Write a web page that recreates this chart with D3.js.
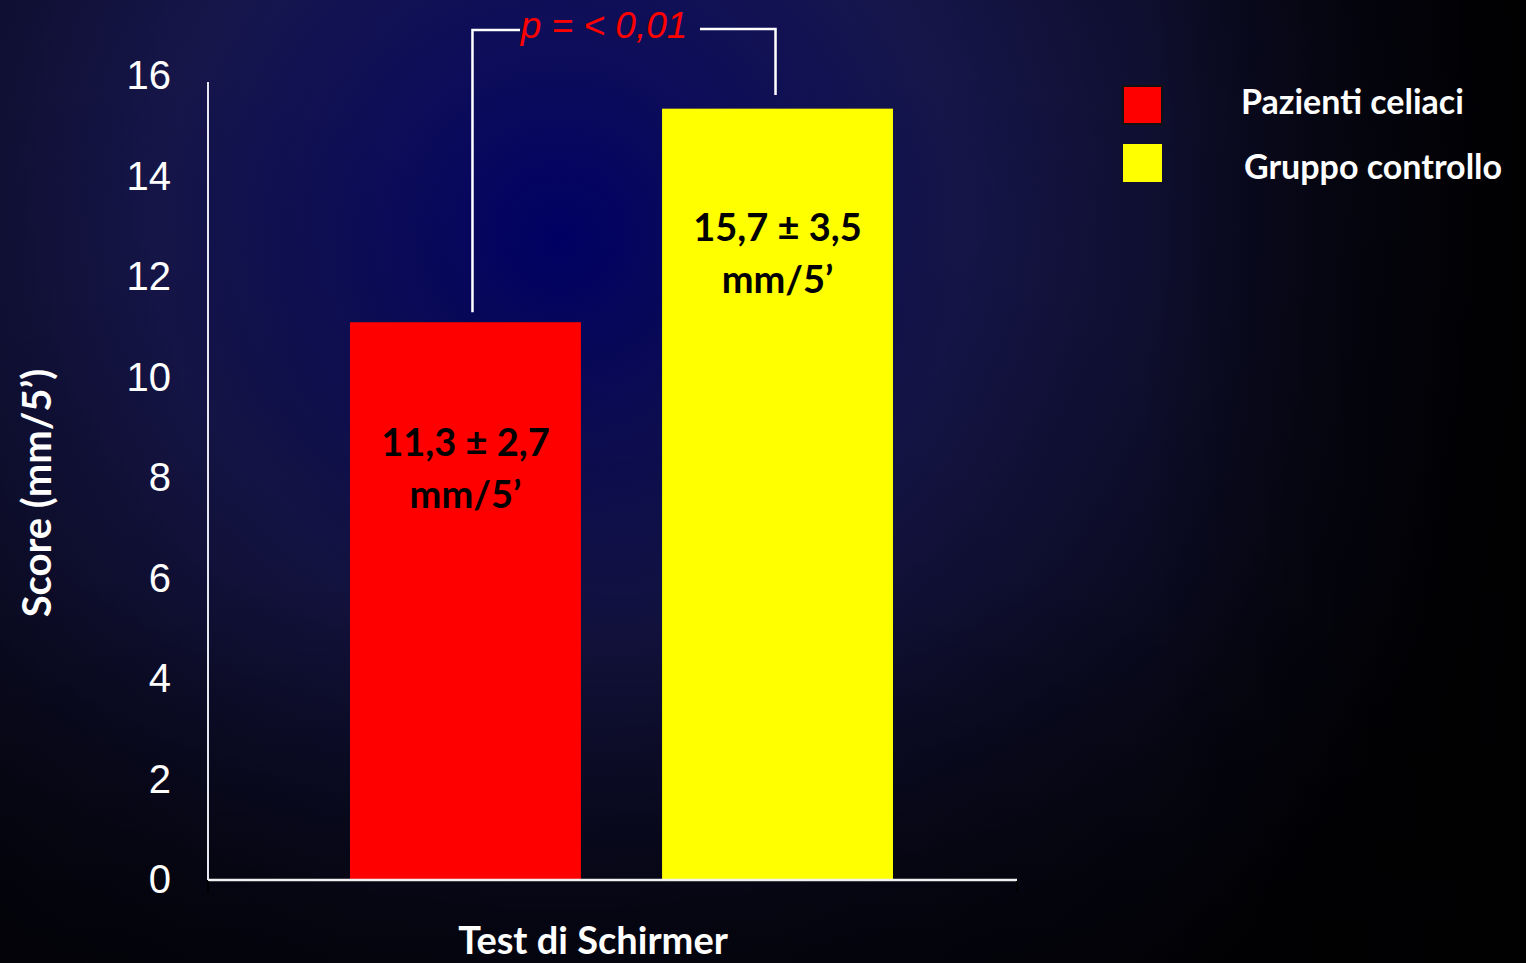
<!DOCTYPE html>
<html>
<head>
<meta charset="utf-8">
<script src="https://cdn.jsdelivr.net/npm/d3@7"></script>
<style>
  html, body { margin: 0; padding: 0; background: #0a0a1e; }
  svg { display: block; }
</style>
</head>
<body>
<script>
// data
var groups = ["Pazienti celiaci", "Gruppo controllo"];
var values = [11.1, 15.35];
var colors = ["#ff0000", "#ffff00"];
var barLabels = [["11,3 \u00b1 2,7", "mm/5\u2019"], ["15,7 \u00b1 3,5", "mm/5\u2019"]];
var yTicks = [0, 2, 4, 6, 8, 10, 12, 14, 16];
var pText = "p = < 0,01";

var width = 1526, height = 963;

var svg = d3.select("body").append("svg")
    .attr("width", width)
    .attr("height", height);

var defs = svg.append("defs");
var rg = defs.append("radialGradient")
    .attr("id", "bg")
    .attr("gradientUnits", "userSpaceOnUse")
    .attr("cx", 560).attr("cy", 240).attr("r", 1000);
rg.append("stop").attr("offset", "0").attr("stop-color", "#00006a");
rg.append("stop").attr("offset", "0.18").attr("stop-color", "#0c0c5c");
rg.append("stop").attr("offset", "0.4").attr("stop-color", "#16164c");
rg.append("stop").attr("offset", "0.7").attr("stop-color", "#0c0c26");
rg.append("stop").attr("offset", "1").attr("stop-color", "#03030a");

var lg = defs.append("linearGradient")
    .attr("id", "shade")
    .attr("x1", 0).attr("y1", 0).attr("x2", 0).attr("y2", 1);
lg.append("stop").attr("offset", "0").attr("stop-color", "#000").attr("stop-opacity", 0);
lg.append("stop").attr("offset", "0.6").attr("stop-color", "#000").attr("stop-opacity", 0.15);
lg.append("stop").attr("offset", "1").attr("stop-color", "#000").attr("stop-opacity", 0.6);

var rs = defs.append("linearGradient")
    .attr("id", "rshade")
    .attr("x1", 0).attr("y1", 0).attr("x2", 1).attr("y2", 0);
rs.append("stop").attr("offset", "0.75").attr("stop-color", "#000").attr("stop-opacity", 0);
rs.append("stop").attr("offset", "1").attr("stop-color", "#000").attr("stop-opacity", 0.85);

svg.append("rect").attr("width", width).attr("height", height).attr("fill", "url(#bg)");
svg.append("rect").attr("width", width).attr("height", height).attr("fill", "url(#shade)");
svg.append("rect").attr("width", width).attr("height", height).attr("fill", "url(#rshade)");

// scales
var y = d3.scaleLinear().domain([0, 16]).range([880, 76]);
var x = d3.scaleBand().domain(groups).range([256.4, 986.6]).paddingInner(0.26).paddingOuter(0.3);

// bars
svg.selectAll(".bar")
  .data(groups)
  .enter().append("rect")
    .attr("class", "bar")
    .attr("x", function(d) { return x(d); })
    .attr("width", x.bandwidth())
    .attr("y", function(d, i) { return y(values[i]); })
    .attr("height", function(d, i) { return y(0) - y(values[i]); })
    .attr("fill", function(d, i) { return colors[i]; });

// bar value labels
var lab = svg.selectAll(".blabel")
  .data(groups)
  .enter().append("text")
    .attr("class", "blabel")
    .attr("text-anchor", "middle")
    .attr("font-family", "Lato, 'Open Sans', sans-serif")
    .attr("font-weight", "bold")
    .attr("font-size", 38)
    .attr("fill", "#000");
lab.each(function(d, i) {
  var t = d3.select(this);
  var cx = x(d) + x.bandwidth() / 2;
  var top = i === 0 ? 456 : 241;
  barLabels[i].forEach(function(s, k) {
    t.append("tspan").attr("x", cx).attr("y", top + k * 52).text(s);
  });
});

// axes
var yAxis = svg.append("g")
    .attr("transform", "translate(208,0)")
    .call(d3.axisLeft(y).tickValues(yTicks).tickSize(0).tickPadding(37));
yAxis.select(".domain").remove();
yAxis.selectAll("text")
    .attr("fill", "#fff")
    .attr("font-family", "'Liberation Sans', Arial, sans-serif")
    .attr("font-size", 40);

svg.append("line")
    .attr("x1", 208).attr("x2", 208).attr("y1", 82).attr("y2", y(0))
    .attr("stroke", "#e8e8f0").attr("stroke-width", 2);
svg.append("line")
    .attr("x1", 208).attr("x2", 1017).attr("y1", y(0)).attr("y2", y(0))
    .attr("stroke", "#f0f0f0").attr("stroke-width", 2.5);
[208, 1017].forEach(function(px) {
  svg.append("line")
      .attr("x1", px).attr("x2", px).attr("y1", y(0) + 1).attr("y2", y(0) + 12)
      .attr("stroke", "#000").attr("stroke-width", 2);
});

// axis titles
svg.append("text")
    .attr("transform", "translate(51,493) rotate(-90)")
    .attr("text-anchor", "middle")
    .attr("font-family", "Lato, 'Open Sans', sans-serif")
    .attr("font-weight", "bold")
    .attr("font-size", 40)
    .attr("fill", "#fff")
    .text("Score (mm/5\u2019)");

svg.append("text")
    .attr("x", 593).attr("y", 954)
    .attr("text-anchor", "middle")
    .attr("font-family", "Lato, 'Open Sans', sans-serif")
    .attr("font-weight", "bold")
    .attr("font-size", 38)
    .attr("fill", "#fff")
    .text("Test di Schirmer");

// significance bracket
var xl = x(groups[0]) + x.bandwidth() / 2 + 7;
var xr = x(groups[1]) + x.bandwidth() / 2 - 2;
svg.append("path")
    .attr("d", "M" + xl + "," + (y(values[0]) - 10) + "V30H520")
    .attr("fill", "none").attr("stroke", "#fff").attr("stroke-width", 2.5);
svg.append("path")
    .attr("d", "M700,29H" + xr + "V95")
    .attr("fill", "none").attr("stroke", "#fff").attr("stroke-width", 2.5);
svg.append("text")
    .attr("x", 604).attr("y", 38)
    .attr("text-anchor", "middle")
    .attr("font-family", "'Liberation Sans', Arial, sans-serif")
    .attr("font-style", "italic")
    .attr("font-size", 37)
    .attr("fill", "#ff0000")
    .text(pText);

// legend
var leg = svg.selectAll(".leg")
  .data(groups)
  .enter().append("g")
    .attr("class", "leg")
    .attr("transform", function(d, i) { return "translate(1123," + (86 + i * 58) + ")"; });
leg.append("rect")
    .attr("width", 39).attr("height", 38)
    .attr("fill", function(d, i) { return colors[i]; })
    .attr("stroke", function(d, i) { return i === 0 ? "#111" : "none"; })
    .attr("stroke-width", 2);
leg.append("text")
    .attr("x", function(d, i) { return i === 0 ? 118 : 121; })
    .attr("y", function(d, i) { return i === 0 ? 28 : 35; })
    .attr("font-family", "Lato, 'Open Sans', sans-serif")
    .attr("font-weight", "bold")
    .attr("font-size", 34)
    .attr("fill", "#fff")
    .text(function(d) { return d; });
</script>
</body>
</html>
